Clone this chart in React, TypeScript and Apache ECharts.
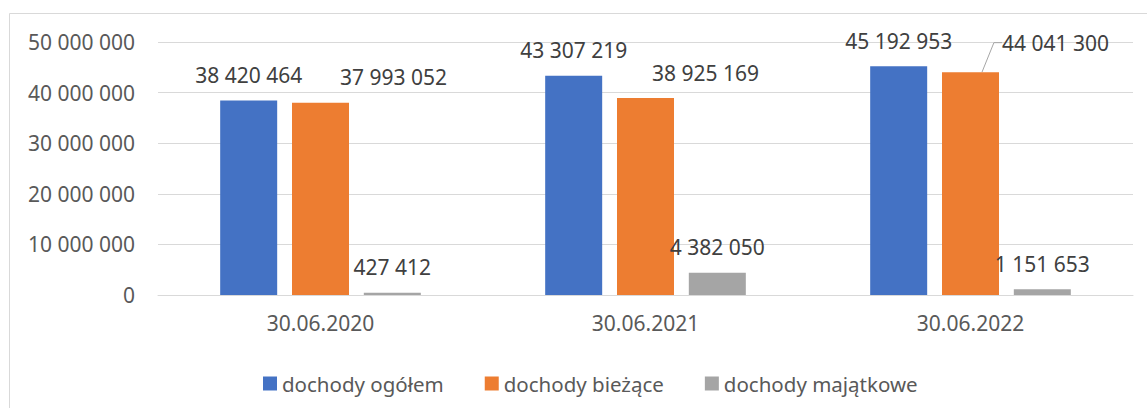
import React, { useEffect, useRef } from "react";
import * as echarts from "echarts";

const categories = ["30.06.2020", "30.06.2021", "30.06.2022"];
const seriesNames = ["dochody ogółem", "dochody bieżące", "dochody majątkowe"];
const ogolem = [38420464, 43307219, 45192953];
const biezace = [37993052, 38925169, 44041300];
const majatkowe = [427412, 4382050, 1151653];

// label displacement (px) for the orange series labels, as in the original layout
const biezaceLabelShift: [number, number][] = [
  [73, 0],
  [60, 0],
  [85, -4],
];

const fmt = (v: number) => String(v).replace(/\B(?=(\d{3})+(?!\d))/g, " ");

const FONT = "Noto Sans";
const colors = ["#4472C4", "#ED7D31", "#A5A5A5"];

export default function App() {
  const ref = useRef<HTMLDivElement>(null);
  useEffect(() => {
    if (!ref.current) return;
    const chart = echarts.init(ref.current, undefined, { renderer: "svg" });
    const labelBase = {
      show: true,
      position: "top" as const,
      distance: 15,
      fontFamily: FONT,
      fontSize: 21,
      color: "#404040",
      formatter: (p: any) => fmt(p.value as number),
    };
    const leader = {
      show: true,
      length2: 20,
      minTurnAngle: 112,
      lineStyle: { color: "#A6A6A6", width: 1 },
    };
    chart.setOption({
      animation: false,
      backgroundColor: "#ffffff",
      textStyle: { fontFamily: FONT },
      color: colors,
      graphic: [
        {
          type: "rect",
          shape: { x: 9.5, y: 13.5, width: 1300, height: 600 },
          style: { fill: "none", stroke: "#D9D9D9", lineWidth: 1 },
          silent: true,
          z: -10,
        },
      ],
      grid: { left: 158, right: 14, top: 42, bottom: 113, containLabel: false },
      legend: {
        data: seriesNames,
        left: 258,
        top: 368,
        icon: "rect",
        itemWidth: 14,
        itemHeight: 14,
        itemGap: 41,
        textStyle: { fontFamily: FONT, fontSize: 20.5, color: "#595959" },
      },
      xAxis: {
        type: "category",
        data: categories,
        axisLine: { show: true, lineStyle: { color: "#D9D9D9", width: 1 } },
        axisTick: { show: false },
        axisLabel: { fontFamily: FONT, fontSize: 21, color: "#595959", margin: 17 },
      },
      yAxis: {
        type: "value",
        min: 0,
        max: 50000000,
        interval: 10000000,
        axisLine: { show: false },
        axisTick: { show: false },
        splitLine: { lineStyle: { color: "#D9D9D9", width: 1 } },
        axisLabel: {
          fontFamily: FONT,
          fontSize: 21,
          color: "#595959",
          margin: 23,
          formatter: (v: number) => fmt(v),
        },
      },
      series: [
        {
          name: seriesNames[0],
          type: "bar",
          data: ogolem,
          barWidth: 57,
          barGap: "26%",
          label: labelBase,
        },
        {
          name: seriesNames[1],
          type: "bar",
          data: biezace.map((v, i) =>
            i === 2 ? { value: v, labelLine: leader } : { value: v }
          ),
          barWidth: 57,
          barGap: "26%",
          label: labelBase,
          labelLine: { ...leader, show: false },
          labelLayout: (params: any) => {
            const s = biezaceLabelShift[params.dataIndex];
            return { dx: s[0], dy: s[1] };
          },
        },
        {
          name: seriesNames[2],
          type: "bar",
          data: majatkowe,
          barWidth: 57,
          barGap: "26%",
          label: labelBase,
        },
      ],
    });
    return () => chart.dispose();
  }, []);
  return (
    <div
      ref={ref}
      style={{ position: "absolute", left: 0, top: 0, width: 1147, height: 408 }}
    />
  );
}
